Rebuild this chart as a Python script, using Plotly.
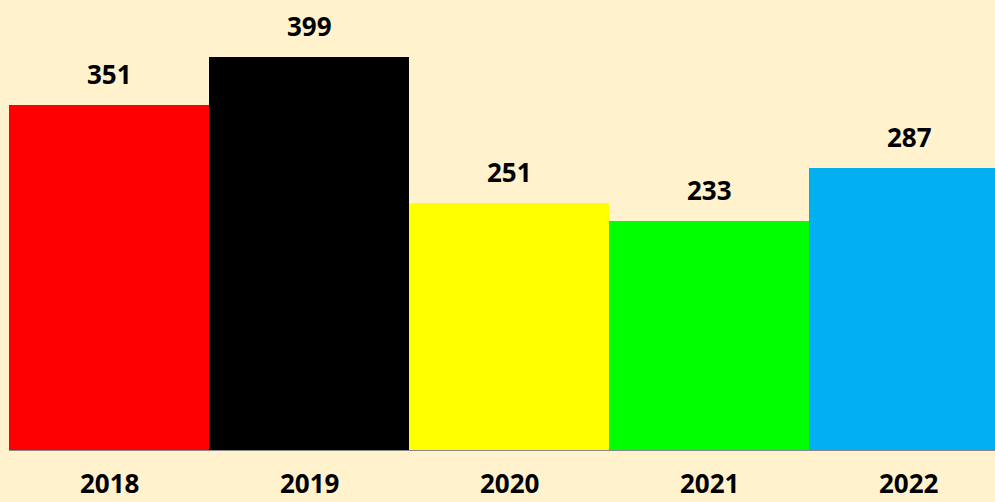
import plotly.graph_objects as go

years = ["2018", "2019", "2020", "2021", "2022"]
values = [351, 399, 251, 233, 287]
colors = ["#FF0000", "#000000", "#FFFF00", "#00FF00", "#00B0F0"]

bg = "#FFF2CC"
font_family = "Open Sans, Lato, sans-serif"

fig = go.Figure(
    go.Bar(
        x=years,
        y=values,
        marker=dict(color=colors, line=dict(width=0)),
        hoverinfo="x+y",
    )
)

annotations = []
for i, (yr, v) in enumerate(zip(years, values)):
    annotations.append(dict(
        x=i, y=v, xref="x", yref="y", text=f"<b>{v}</b>", showarrow=False,
        yanchor="middle", yshift=31,
        font=dict(family=font_family, size=26, color="#000000"),
    ))
    annotations.append(dict(
        x=i, y=0, xref="x", yref="paper", text=f"<b>{yr}</b>", showarrow=False,
        yanchor="middle", yshift=-33,
        font=dict(family=font_family, size=26, color="#000000"),
    ))

fig.update_layout(
    width=995, height=502,
    margin=dict(l=9, r=0, t=0, b=52),
    paper_bgcolor=bg, plot_bgcolor=bg,
    bargap=0,
    showlegend=False,
    annotations=annotations,
    xaxis=dict(
        type="category",
        range=[-0.5, 4.43], showticklabels=False, ticks="",
        showgrid=False, zeroline=False,
        showline=True, linecolor="#898989", linewidth=1,
    ),
    yaxis=dict(
        range=[0, 457.3], visible=False, showgrid=False, zeroline=False,
    ),
)

fig.write_html(
    "out.html",
    config={"displayModeBar": False},
    post_script="document.body.style.margin='0';document.body.style.background='#FFF2CC';",
)
